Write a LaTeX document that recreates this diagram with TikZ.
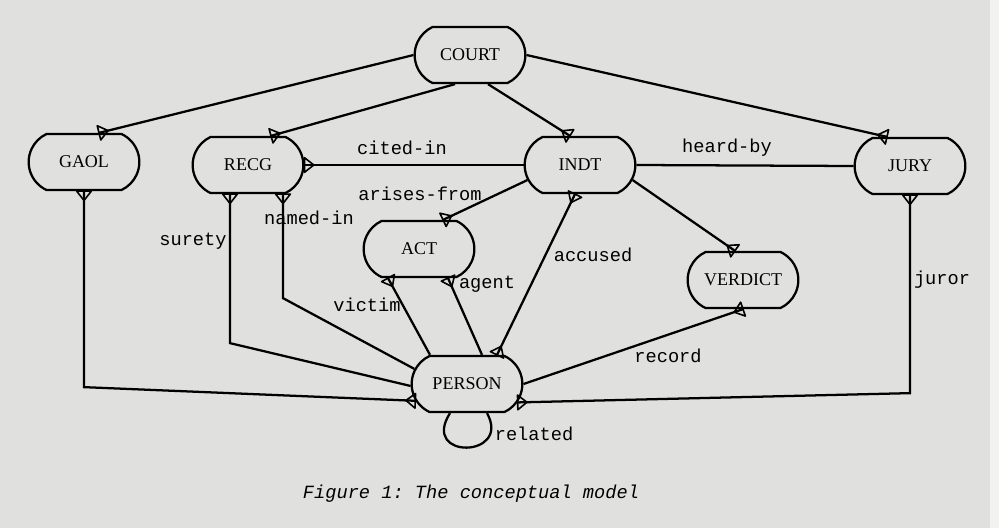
\documentclass[tikz,border=0pt]{standalone}
\usepackage{fontspec}
\setmainfont{Liberation Serif}
\setmonofont{Liberation Mono}
\usetikzlibrary{shapes.misc,calc,decorations.markings}
\definecolor{paper}{RGB}{224,224,222}
\definecolor{paperedge}{RGB}{242,242,240}
\begin{document}
\begin{tikzpicture}[x=0.75pt,y=-0.75pt,
  ent/.style={rounded rectangle, rounded rectangle arc length=130, draw, line width=1.7pt,
    minimum width=83pt, minimum height=42pt, inner sep=0pt, font=\fontsize{13.5}{15}\selectfont},
  rel/.style={line width=1.7pt},
  lbl/.style={font=\ttfamily\fontsize{14}{16}\selectfont, inner sep=0pt},
  crowend/.style={postaction={decorate,decoration={markings,
    mark=at position 1 with {\draw[line width=1.2pt,line join=round] (0,5.5pt) -- (-7pt,0) -- (0,-5.5pt) -- cycle;}}}},
  crowstart/.style={postaction={decorate,decoration={markings,
    mark=at position 0 with {\draw[line width=1.2pt,line join=round] (0,5.5pt) -- (7pt,0) -- (0,-5.5pt) -- cycle;}}}}]
\useasboundingbox (0,0) rectangle (999,528);
\fill[paper] (0,0) rectangle (999,528);
\fill[paperedge] (990,0) rectangle (999,528);
% entities
\node[ent] (COURT) at (470,55) {COURT};
\node[ent] (GAOL) at (84,162) {GAOL};
\node[ent] (RECG) at (248,165) {RECG};
\node[ent] (INDT) at (580,165) {INDT};
\node[ent] (JURY) at (910,166) {JURY};
\node[ent] (ACT) at (419,249) {ACT};
\node[ent] (VERDICT) at (743,280) {VERDICT};
\node[ent] (PERSON) at (467,384) {PERSON};
% relationships
\draw[rel,crowend] (COURT.west) -- ($(GAOL.north)+(15,0)$);
\draw[rel,crowend] ($(COURT.south)+(-15,0)$) -- ($(RECG.north)+(23,0)$);
\draw[rel,crowend] ($(COURT.south)+(18,0)$) -- ($(INDT.north)+(-10,0)$);
\draw[rel,crowend] (COURT.east) -- ($(JURY.north)+(-23,0)$);
\draw[rel,crowstart] (RECG.east) -- (INDT.west);
\draw[rel] (INDT.east) -- (JURY.west);
\draw[rel,crowend] (INDT.196) -- ($(ACT.north)+(24,0)$);
\draw[rel,crowend] (INDT.344) -- ($(VERDICT.north)+(-8,0)$);
\draw[rel,crowstart,crowend] ($(INDT.south)+(-5,0)$) -- ($(PERSON.north)+(30,0)$);
\draw[rel,crowstart] ($(ACT.south)+(-31,0)$) -- ($(PERSON.north)+(-37,0)$);
\draw[rel,crowstart] ($(ACT.south)+(29,0)$) -- ($(PERSON.north)+(15,0)$);
\draw[rel,crowstart] (VERDICT.south) -- (PERSON.east);
\draw[rel,crowstart,crowend] (GAOL.south) -- ++(0,196) -- (PERSON.198);
\draw[rel,crowstart] ($(RECG.south)+(-18,0)$) -- ++(0,149) -- (PERSON.182);
\draw[rel,crowstart] ($(RECG.south)+(35,0)$) -- ++(0,104) -- (PERSON.164);
\draw[rel,crowstart,crowend] (JURY.south) -- ++(0,198) -- (PERSON.340);
\draw[rel,crowend] ($(PERSON.south)+(-17,0)$) .. controls +(-30,47) and +(25,45) .. ($(PERSON.south)+(20,0)$);
% labels
\node[lbl] (lcited) at (402,148) {cited-in};
\node[lbl] (lheard) at (727,148) {heard-by};
\node[lbl] (larises) at (420,194) {arises-from};
\node[lbl] (lsurety) at (193,241) {surety};
\node[lbl] (lnamed) at (309,218) {named-in};
\node[lbl] (lvictim) at (367,305) {victim};
\node[lbl] (lagent) at (487,284) {agent};
\node[lbl] (laccused) at (593,255) {accused};
\node[lbl] (lrecord) at (668,356) {record};
\node[lbl] (ljuror) at (942,280) {juror};
\node[lbl] (lrelated) at (534,434) {related};
\node[font=\ttfamily\itshape\fontsize{14}{16}\selectfont, inner sep=0pt] (caption) at (471,494) {Figure 1: The conceptual model};
\end{tikzpicture}
\end{document}
